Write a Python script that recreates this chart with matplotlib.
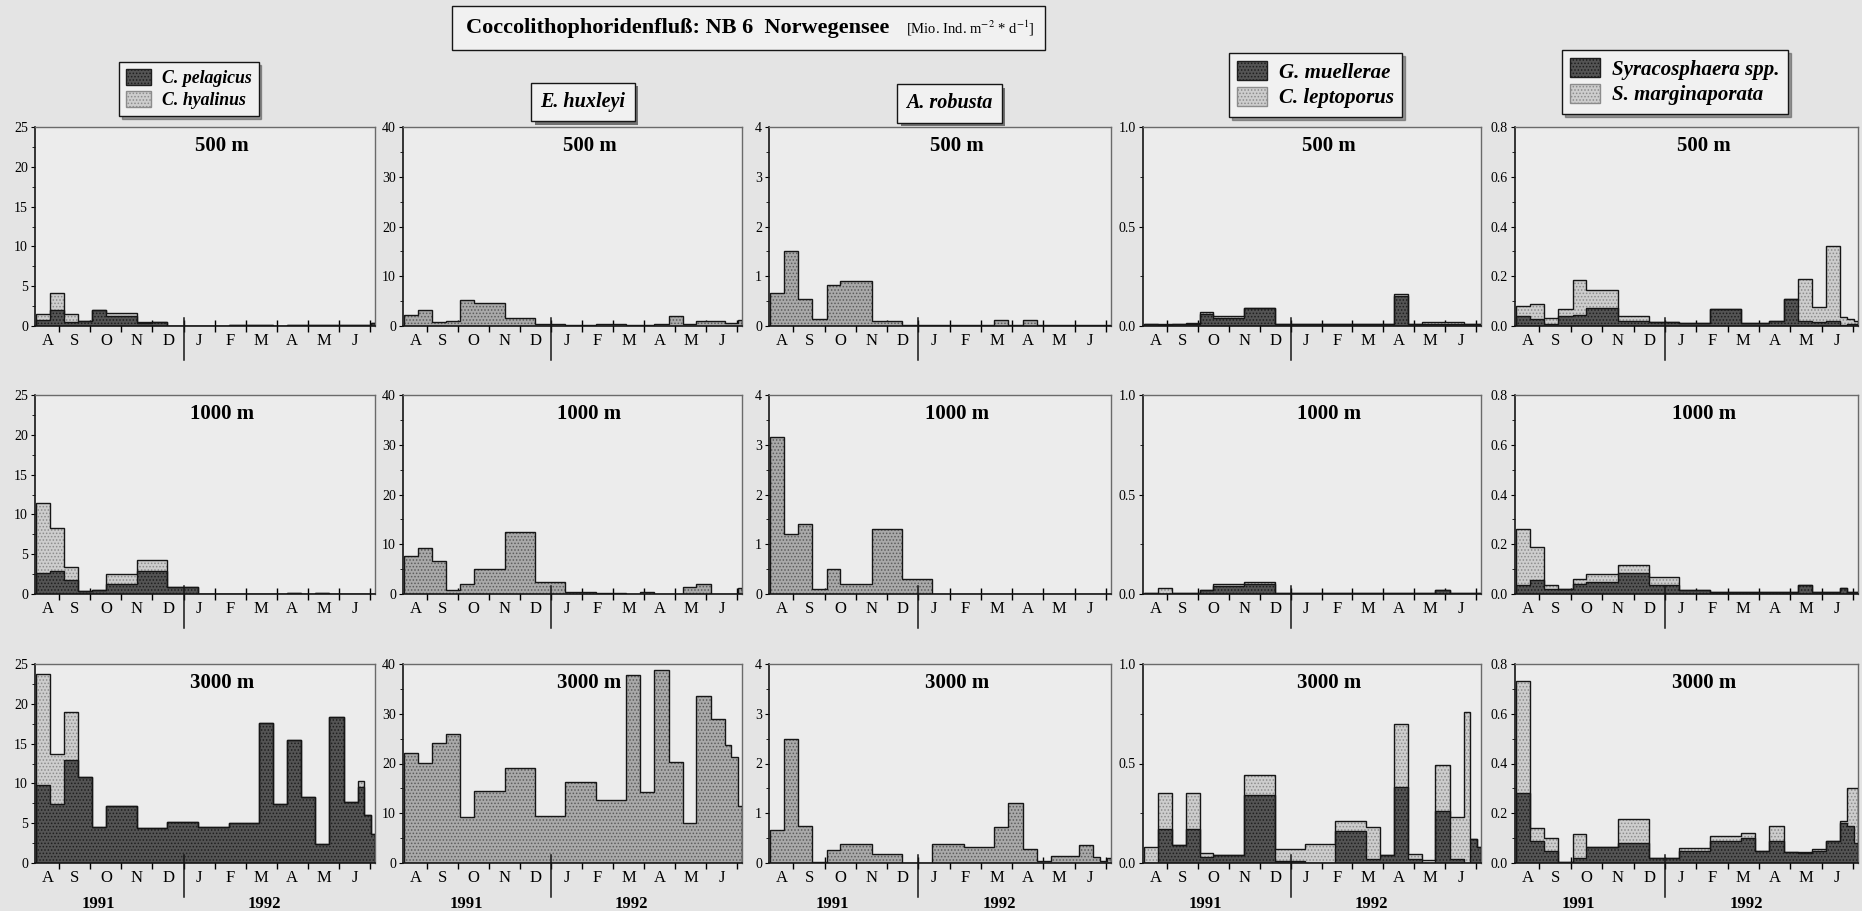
import numpy as np
import matplotlib
matplotlib.use('Agg')
import matplotlib.pyplot as plt
from matplotlib.patches import Patch, Rectangle
import matplotlib.patheffects as pe
import matplotlib.transforms as mtransforms
from matplotlib.ticker import MultipleLocator, FormatStrFormatter
from matplotlib.font_manager import FontProperties

plt.rcParams['font.family'] = ['Liberation Serif', 'DejaVu Serif']
plt.rcParams['mathtext.fontset'] = 'stix'
plt.rcParams['hatch.linewidth'] = 0.7

# ---------------- data ----------------
# sediment-trap cup intervals, in months after 1 Aug 1991
cup_edges = [0.25, 0.70, 1.15, 1.60, 2.06, 2.50, 3.50, 4.00, 4.48, 5.45, 6.45,
             7.43, 7.88, 8.33, 8.79, 9.24, 9.68, 10.15, 10.60, 10.82, 11.03, 11.16]
month_labels = ['A', 'S', 'O', 'N', 'D', 'J', 'F', 'M', 'A', 'M', 'J']
year_labels = ['1991', '1992']
depth_labels = ['500 m', '1000 m', '3000 m']

# C. pelagicus (dark) / C. hyalinus (light, stacked)
pelagicus_500 = [0.77, 2.0, 0.55, 0.64, 2.0, 1.2, 0.4, 0.55, 0.05, 0.05, 0.08, 0.08, 0.05, 0.08, 0.08, 0.1, 0.1, 0.1, 0.1, 0.15, 0.4]
hyalinus_500 = [0.73, 2.2, 0.95, 0.0, 0.0, 0.4, 0.1, 0.0, 0.0, 0.0, 0.0, 0.0, 0.0, 0.0, 0.0, 0.0, 0.0, 0.0, 0.0, 0.0, 0.0]
pelagicus_1000 = [2.7, 2.95, 1.7, 0.35, 0.55, 1.25, 2.95, 2.95, 0.85, 0.05, 0.05, 0.05, 0.05, 0.15, 0.05, 0.15, 0.05, 0.05, 0.05, 0.05, 0.05]
hyalinus_1000 = [8.7, 5.4, 1.7, 0.0, 0.0, 1.2, 1.3, 1.3, 0.0, 0.0, 0.0, 0.0, 0.0, 0.0, 0.0, 0.0, 0.0, 0.0, 0.0, 0.0, 0.0]
pelagicus_3000 = [9.8, 7.4, 12.9, 10.8, 4.5, 7.2, 4.4, 4.4, 5.2, 4.5, 5.0, 17.6, 7.4, 15.5, 8.3, 2.4, 18.3, 7.7, 9.5, 6.0, 3.6]
hyalinus_3000 = [14.0, 6.3, 6.1, 0.0, 0.0, 0.0, 0.0, 0.0, 0.0, 0.0, 0.0, 0.0, 0.0, 0.0, 0.0, 0.0, 0.0, 0.0, 0.8, 0.0, 0.0]

# E. huxleyi
huxleyi_500 = [2.15, 3.2, 0.9, 1.0, 5.2, 4.6, 1.7, 1.7, 0.35, 0.3, 0.5, 0.2, 0.2, 0.4, 2.1, 0.5, 1.0, 1.0, 0.6, 0.6, 1.2]
huxleyi_1000 = [7.6, 9.3, 6.6, 0.9, 2.0, 5.1, 12.5, 12.5, 2.4, 0.4, 0.3, 0.1, 0.35, 0.1, 0.1, 1.4, 1.95, 0.05, 0.05, 0.05, 1.2]
huxleyi_3000 = [22.2, 20.2, 24.2, 26.0, 9.3, 14.5, 19.0, 19.0, 9.5, 16.3, 12.6, 37.8, 14.3, 38.8, 20.3, 8.0, 33.6, 28.9, 23.7, 21.3, 11.4]

# A. robusta
robusta_500 = [0.67, 1.5, 0.55, 0.15, 0.82, 0.9, 0.1, 0.1, 0.02, 0.02, 0.03, 0.12, 0.03, 0.12, 0.03, 0.02, 0.02, 0.02, 0.02, 0.02, 0.02]
robusta_1000 = [3.15, 1.2, 1.4, 0.1, 0.5, 0.2, 1.3, 1.3, 0.3, 0.0, 0.0, 0.0, 0.0, 0.0, 0.0, 0.0, 0.0, 0.0, 0.0, 0.0, 0.0]
robusta_3000 = [0.66, 2.49, 0.75, 0.02, 0.27, 0.38, 0.18, 0.18, 0.0, 0.38, 0.33, 0.72, 1.2, 0.28, 0.05, 0.15, 0.15, 0.37, 0.12, 0.05, 0.1]

# G. muellerae (dark) / C. leptoporus (light, stacked)
muellerae_500 = [0.01, 0.005, 0.01, 0.01, 0.06, 0.04, 0.09, 0.09, 0.01, 0.01, 0.01, 0.01, 0.01, 0.15, 0.01, 0.01, 0.01, 0.01, 0.01, 0.01, 0.01]
leptoporus_500 = [0.0, 0.005, 0.0, 0.005, 0.01, 0.01, 0.0, 0.0, 0.0, 0.0, 0.0, 0.0, 0.0, 0.01, 0.0, 0.01, 0.01, 0.01, 0.0, 0.0, 0.0]
muellerae_1000 = [0.005, 0.0, 0.005, 0.005, 0.02, 0.04, 0.05, 0.05, 0.005, 0.003, 0.003, 0.003, 0.003, 0.003, 0.003, 0.003, 0.02, 0.003, 0.003, 0.003, 0.003]
leptoporus_1000 = [0.0, 0.03, 0.0, 0.0, 0.0, 0.01, 0.01, 0.01, 0.0, 0.0, 0.0, 0.0, 0.0, 0.0, 0.0, 0.0, 0.0, 0.0, 0.0, 0.0, 0.0]
muellerae_3000 = [0.0, 0.17, 0.09, 0.17, 0.03, 0.038, 0.34, 0.34, 0.01, 0.0, 0.16, 0.02, 0.04, 0.38, 0.02, 0.0, 0.26, 0.02, 0.0, 0.12, 0.08]
leptoporus_3000 = [0.08, 0.18, 0.0, 0.18, 0.02, 0.0, 0.10, 0.10, 0.06, 0.095, 0.05, 0.16, 0.0, 0.32, 0.023, 0.017, 0.23, 0.21, 0.76, 0.0, 0.0]

# Syracosphaera spp. (dark) / S. marginaporata (light, stacked)
syracosphaera_500 = [0.04, 0.03, 0.01, 0.04, 0.045, 0.074, 0.02, 0.02, 0.015, 0.012, 0.07, 0.012, 0.012, 0.02, 0.11, 0.02, 0.015, 0.02, 0.005, 0.01, 0.01]
marginaporata_500 = [0.04, 0.057, 0.024, 0.03, 0.14, 0.071, 0.02, 0.02, 0.0, 0.0, 0.0, 0.0, 0.0, 0.0, 0.0, 0.17, 0.062, 0.30, 0.03, 0.02, 0.01]
syracosphaera_1000 = [0.035, 0.055, 0.02, 0.02, 0.04, 0.05, 0.085, 0.085, 0.035, 0.015, 0.01, 0.01, 0.01, 0.01, 0.01, 0.035, 0.01, 0.01, 0.025, 0.01, 0.01]
marginaporata_1000 = [0.225, 0.135, 0.015, 0.0, 0.02, 0.03, 0.03, 0.03, 0.035, 0.0, 0.0, 0.0, 0.0, 0.0, 0.0, 0.0, 0.0, 0.0, 0.0, 0.0, 0.0]
syracosphaera_3000 = [0.28, 0.09, 0.05, 0.005, 0.02, 0.065, 0.08, 0.08, 0.02, 0.05, 0.09, 0.10, 0.05, 0.09, 0.045, 0.04, 0.05, 0.09, 0.16, 0.15, 0.08]
marginaporata_3000 = [0.45, 0.05, 0.05, 0.0, 0.095, 0.0, 0.095, 0.095, 0.0, 0.01, 0.02, 0.02, 0.0, 0.06, 0.0, 0.005, 0.005, 0.0, 0.01, 0.15, 0.22]

# ---------------- styles ----------------
BG = '#e4e4e4'
AXBG = '#ececec'
BOXBG = '#f1f1f1'
DARK = ('#545454', '#1e1e1e')
LIGHT = ('#cdcdcd', '#8c8c8c')
MED = ('#a9a9a9', '#5c5c5c')
HATCH = '.....'

columns = [
    dict(ymax=25, major=5, minor=2.5, fmt='%d',
         rows=[[(pelagicus_500, DARK), (hyalinus_500, LIGHT)],
               [(pelagicus_1000, DARK), (hyalinus_1000, LIGHT)],
               [(pelagicus_3000, DARK), (hyalinus_3000, LIGHT)]]),
    dict(ymax=40, major=10, minor=5, fmt='%d',
         rows=[[(huxleyi_500, MED)], [(huxleyi_1000, MED)], [(huxleyi_3000, MED)]]),
    dict(ymax=4, major=1, minor=0.5, fmt='%d',
         rows=[[(robusta_500, MED)], [(robusta_1000, MED)], [(robusta_3000, MED)]]),
    dict(ymax=1.0, major=0.5, minor=0.25, fmt='%.1f',
         rows=[[(muellerae_500, DARK), (leptoporus_500, LIGHT)],
               [(muellerae_1000, DARK), (leptoporus_1000, LIGHT)],
               [(muellerae_3000, DARK), (leptoporus_3000, LIGHT)]]),
    dict(ymax=0.8, major=0.2, minor=0.1, fmt='%.1f',
         rows=[[(syracosphaera_500, DARK), (marginaporata_500, LIGHT)],
               [(syracosphaera_1000, DARK), (marginaporata_1000, LIGHT)],
               [(syracosphaera_3000, DARK), (marginaporata_3000, LIGHT)]]),
]

W, H = 1862, 911
col_left = [35, 403, 769, 1143, 1515]
col_width = [340, 339, 342, 338, 343]
row_top = [127, 395, 664]
row_h = 199

fig = plt.figure(figsize=(W / 100, H / 100), dpi=100, facecolor=BG)

edges = np.array(cup_edges)
month_ticks = np.arange(1, 12)
label_pos = [0.62] + [m + 0.5 for m in range(1, 11)]

for c, col in enumerate(columns):
    for r in range(3):
        ax = fig.add_axes([col_left[c] / W, 1 - (row_top[r] + row_h) / H,
                           col_width[c] / W, row_h / H], facecolor=AXBG)
        base = np.zeros(len(edges) - 1)
        for vals, (fc, hc) in col['rows'][r]:
            top = base + np.array(vals)
            ax.stairs(top, edges, baseline=base, fill=True, facecolor=fc,
                      edgecolor=hc, hatch=HATCH, linewidth=0, zorder=2)
            base = top
        # outlines
        base = np.zeros(len(edges) - 1)
        for vals, _ in col['rows'][r]:
            base = base + np.array(vals)
            ax.stairs(base, edges, baseline=0, fill=False,
                      edgecolor='#161616', linewidth=1.0, zorder=3)

        ax.set_xlim(0.22, 11.16)
        ax.set_ylim(0, col['ymax'])
        ax.yaxis.set_major_locator(MultipleLocator(col['major']))
        ax.yaxis.set_minor_locator(MultipleLocator(col['minor']))
        ax.yaxis.set_major_formatter(FormatStrFormatter(col['fmt']))
        ax.tick_params(axis='y', which='major', direction='out', length=3,
                       width=0.8, labelsize=10, pad=2)
        ax.tick_params(axis='y', which='minor', direction='out', length=2, width=0.6)

        ax.set_xticks(month_ticks)
        ax.set_xticklabels([])
        ax.set_xticks(label_pos, minor=True)
        ax.set_xticklabels(month_labels, minor=True)
        ax.tick_params(axis='x', which='major', direction='inout', length=8, width=1.0)
        ax.tick_params(axis='x', which='minor', length=0, labelsize=12, pad=5)

        trans = mtransforms.blended_transform_factory(ax.transData, ax.transAxes)
        ax.plot([5, 5], [-0.17, 0.04], transform=trans, color='#161616',
                lw=1.1, clip_on=False, zorder=4)

        for s in ['left', 'bottom']:
            ax.spines[s].set_color('#161616')
            ax.spines[s].set_linewidth(1.2)
        for s in ['top', 'right']:
            ax.spines[s].set_color('#6a6a6a')
            ax.spines[s].set_linewidth(1.0)

        ax.text(0.55, 0.905, depth_labels[r], transform=ax.transAxes,
                ha='center', va='center', fontsize=15, fontweight='bold', zorder=5)

        if r == 2:
            ax.text(2.25, -0.205, year_labels[0], transform=trans, ha='center',
                    va='center', fontsize=12, fontweight='bold')
            ax.text(7.6, -0.205, year_labels[1], transform=trans, ha='center',
                    va='center', fontsize=12, fontweight='bold')

# ---------------- title box ----------------
fig.add_artist(Rectangle((452 / W, 1 - 50 / H), (1045 - 452) / W, 44 / H,
                         transform=fig.transFigure, facecolor=BOXBG,
                         edgecolor='#161616', lw=1.0, zorder=1))
fig.text(466 / W, 1 - 28 / H, 'Coccolithophoridenfluß: NB 6  Norwegensee',
         fontsize=16, fontweight='bold', ha='left', va='center', zorder=2)
fig.text(906 / W, 1 - 28 / H, '[Mio. Ind. m$^{-2}$ * d$^{-1}$]',
         fontsize=10.5, ha='left', va='center', zorder=2)

# ---------------- legends ----------------


def legfont(size):
    return FontProperties(family='Liberation Serif', style='italic', weight='bold', size=size)


def two_legend(labels, anchor, size):
    handles = [Patch(facecolor=DARK[0], edgecolor=DARK[1], hatch=HATCH, label=labels[0]),
               Patch(facecolor=LIGHT[0], edgecolor=LIGHT[1], hatch=HATCH, label=labels[1])]
    leg = fig.legend(handles=handles, loc='upper left', bbox_to_anchor=anchor,
                     frameon=True, fancybox=False, shadow=True, prop=legfont(size),
                     handlelength=1.4, handleheight=1.0, borderpad=0.4,
                     labelspacing=0.2, handletextpad=0.6, borderaxespad=0)
    fr = leg.get_frame()
    fr.set_edgecolor('#161616')
    fr.set_facecolor(BOXBG)
    fr.set_linewidth(1.0)
    fr.set_alpha(1)


two_legend(['C. pelagicus', 'C. hyalinus'], (119 / W, 1 - 62 / H), 12.8)
two_legend(['G. muellerae', 'C. leptoporus'], (1229 / W, 1 - 53 / H), 15)
two_legend(['Syracosphaera spp.', 'S. marginaporata'], (1562 / W, 1 - 50 / H), 15)

for txt, cx, cy in [('E. huxleyi', 583, 102), ('A. robusta', 949.5, 103.5)]:
    t = fig.text(cx / W, 1 - cy / H, txt, fontproperties=legfont(14.5), ha='center', va='center',
                 bbox=dict(boxstyle='square,pad=0.45', facecolor=BOXBG,
                           edgecolor='#161616', lw=1.0))
    t.get_bbox_patch().set_path_effects([pe.SimplePatchShadow(offset=(2.5, -2.5),
                                                              shadow_rgbFace='#555555', alpha=0.8),
                                         pe.Normal()])

fig.savefig('out.png', dpi=100, facecolor=BG)
